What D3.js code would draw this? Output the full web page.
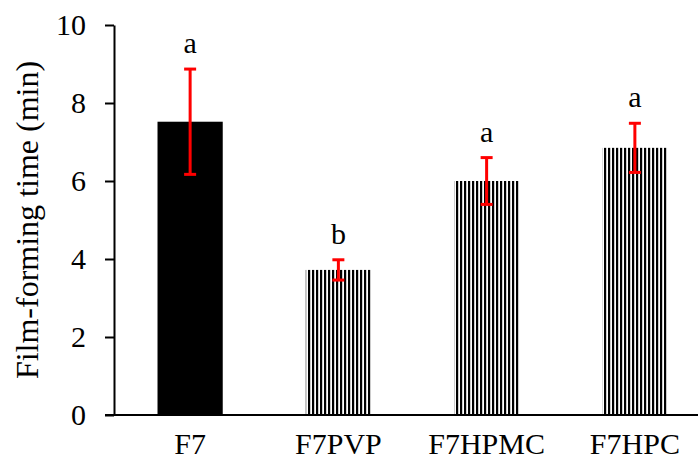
<!DOCTYPE html>
<html lang="en">
<head>
    <meta charset="UTF-8">
    <title>Film-forming time</title>
    <script src="https://cdnjs.cloudflare.com/ajax/libs/d3/7.8.5/d3.min.js" charset="utf-8"></script>
    <style>
        body { margin: 0; background: #fff; }
        svg text { font-family: "Liberation Serif", "Times New Roman", serif; }
    </style>
</head>
<body>
<svg id="chart" width="698" height="461"></svg>

<script type="application/javascript">
    // data
    var categories = ['F7', 'F7PVP', 'F7HPMC', 'F7HPC'];
    var means = [7.52, 3.72, 6.0, 6.85];
    var errors = [1.35, 0.26, 0.6, 0.63];
    var letters = ['a', 'b', 'a', 'a'];
    var yTicks = [0, 2, 4, 6, 8, 10];

    var plot = {};
    plot.left = 114;
    plot.top = 25;
    plot.bottom = 415;
    plot.right = 698;

    var serif = '"Liberation Serif", "Times New Roman", serif';

    var svg = d3.select('#chart');

    var x = d3.scaleBand()
            .domain(categories)
            .range([116, 709])
            .paddingInner(0.56)
            .paddingOuter(0.28);

    var y = d3.scaleLinear()
            .domain([0, 10])
            .range([plot.bottom, plot.top]);

    // vertical stripes for the additive bars
    var defs = svg.append('defs');
    var pat = defs.append('pattern')
            .attr('id', 'stripes')
            .attr('patternUnits', 'userSpaceOnUse')
            .attr('width', 4)
            .attr('height', 10);
    pat.append('rect').attr('width', 4).attr('height', 10).attr('fill', '#fff');
    pat.append('rect').attr('width', 2.2).attr('height', 10).attr('fill', '#000');

    var rows = categories.map(function (c, i) {
        return {cat: c, mean: means[i], err: errors[i], letter: letters[i], i: i};
    });

    // bars
    svg.selectAll('.bar')
            .data(rows)
            .enter()
            .append('rect')
            .attr('class', 'bar')
            .attr('x', function (d) { return x(d.cat); })
            .attr('width', x.bandwidth())
            .attr('y', function (d) { return y(d.mean); })
            .attr('height', function (d) { return y(0) - y(d.mean); })
            .attr('fill', function (d) { return d.i === 0 ? '#000' : 'url(#stripes)'; });

    // y axis
    var yAxis = d3.axisLeft(y)
            .tickValues(yTicks)
            .tickSize(9)
            .tickPadding(19)
            .tickSizeOuter(0);

    var gy = svg.append('g')
            .attr('transform', 'translate(' + plot.left + ',0)')
            .call(yAxis);
    gy.attr('font-family', serif);
    gy.select('.domain').attr('stroke-width', 2);
    gy.selectAll('.tick line').attr('stroke-width', 2);
    gy.selectAll('.tick text')
            .attr('font-size', '30px')
            .attr('fill', '#000')
            .style('font-family', serif);

    // x axis line
    svg.append('line')
            .attr('x1', plot.left - 9)
            .attr('x2', plot.right)
            .attr('y1', y(0))
            .attr('y2', y(0))
            .attr('stroke', '#000')
            .attr('stroke-width', 2);

    // category labels
    svg.selectAll('.cat-label')
            .data(rows)
            .enter()
            .append('text')
            .attr('class', 'cat-label')
            .attr('x', function (d) { return x(d.cat) + x.bandwidth() / 2; })
            .attr('y', 454)
            .attr('text-anchor', 'middle')
            .attr('font-size', '30px')
            .text(function (d) { return d.cat; });

    // error bars
    var cap = 6;
    var eb = svg.selectAll('.err')
            .data(rows)
            .enter()
            .append('g')
            .attr('class', 'err')
            .attr('stroke', '#ff0000')
            .attr('stroke-width', 3);

    eb.append('line')
            .attr('x1', function (d) { return x(d.cat) + x.bandwidth() / 2; })
            .attr('x2', function (d) { return x(d.cat) + x.bandwidth() / 2; })
            .attr('y1', function (d) { return y(d.mean - d.err); })
            .attr('y2', function (d) { return y(d.mean + d.err); });
    eb.append('line')
            .attr('x1', function (d) { return x(d.cat) + x.bandwidth() / 2 - cap; })
            .attr('x2', function (d) { return x(d.cat) + x.bandwidth() / 2 + cap; })
            .attr('y1', function (d) { return y(d.mean + d.err); })
            .attr('y2', function (d) { return y(d.mean + d.err); });
    eb.append('line')
            .attr('x1', function (d) { return x(d.cat) + x.bandwidth() / 2 - cap; })
            .attr('x2', function (d) { return x(d.cat) + x.bandwidth() / 2 + cap; })
            .attr('y1', function (d) { return y(d.mean - d.err); })
            .attr('y2', function (d) { return y(d.mean - d.err); });

    // significance letters
    svg.selectAll('.letter')
            .data(rows)
            .enter()
            .append('text')
            .attr('class', 'letter')
            .attr('x', function (d) { return x(d.cat) + x.bandwidth() / 2; })
            .attr('y', function (d) { return y(d.mean + d.err) - 16; })
            .attr('text-anchor', 'middle')
            .attr('font-size', '30px')
            .text(function (d) { return d.letter; });

    // y title
    svg.append('text')
            .attr('transform', 'translate(38,' + ((plot.top + plot.bottom) / 2) + ') rotate(-90)')
            .attr('text-anchor', 'middle')
            .attr('font-size', '32px')
            .text('Film-forming time (min)');
</script>
</body>
</html>
